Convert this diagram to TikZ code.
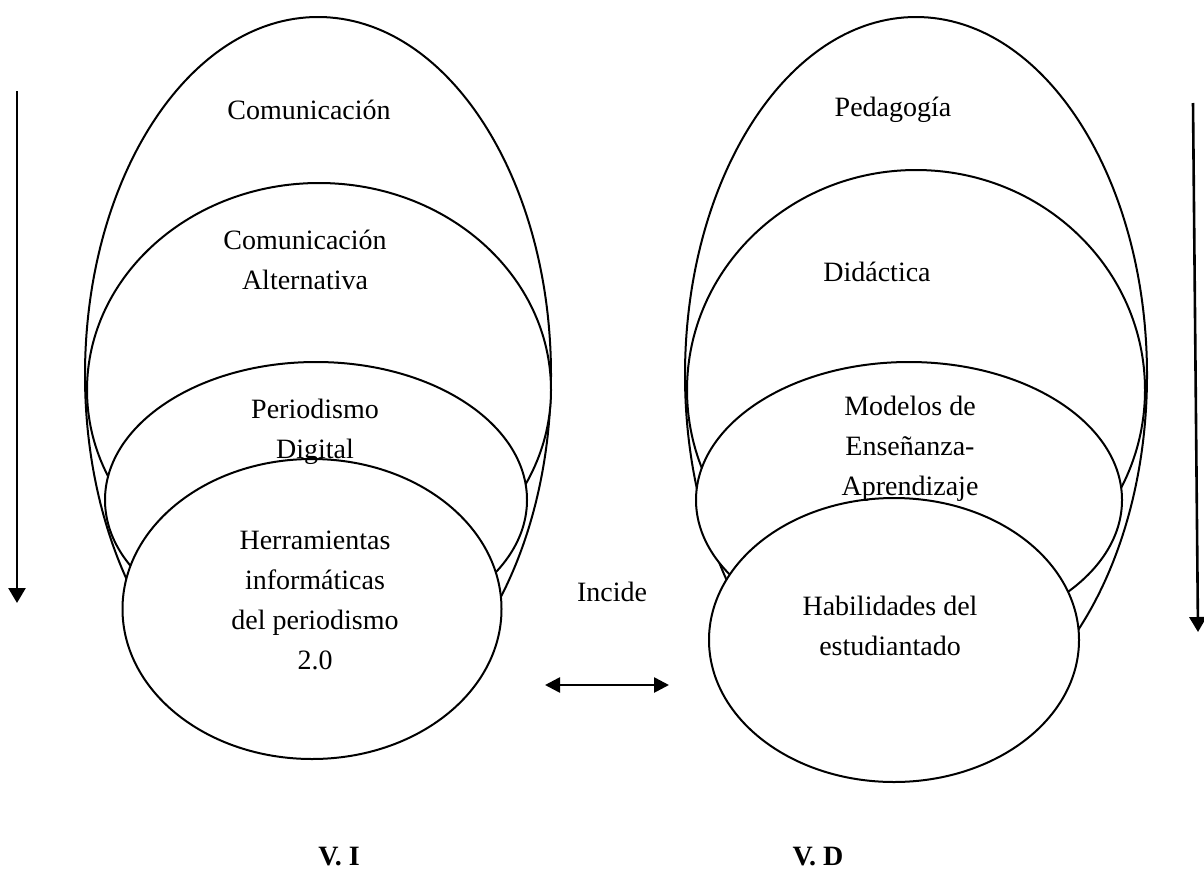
\documentclass[tikz,border=0pt]{standalone}
\usepackage{fontspec}
\setmainfont{Liberation Serif}
\usepackage{tikz}
\usetikzlibrary{arrows.meta,shapes.geometric}

\begin{document}
\begin{tikzpicture}[x=1pt,y=-1pt,line width=2pt,
    >={Triangle[length=15pt,width=17pt]},
    capa/.style={ellipse,draw,fill=white,inner sep=0pt},
    flecha/.style={->,line width=2.6pt},
    texto/.style={align=center,font=\fontsize{28}{40}\selectfont}]
    \useasboundingbox (0,0) rectangle (1204,881);

    % variable independiente
    \node[capa,minimum width=466pt,minimum height=716pt] (i1) at (318,375) {};
    \node[capa,minimum width=464pt,minimum height=414pt] (i2) at (319,390) {};
    \node[capa,minimum width=422pt,minimum height=276pt] (i3) at (316,500) {};
    \node[capa,minimum width=379pt,minimum height=300pt] (i4) at (312,609) {};

    % variable dependiente
    \node[capa,minimum width=462pt,minimum height=716pt] (d1) at (916,375) {};
    \node[capa,minimum width=458pt,minimum height=440pt] (d2) at (916,390) {};
    \node[capa,minimum width=426pt,minimum height=276pt] (d3) at (909,500) {};
    \node[capa,minimum width=370pt,minimum height=284pt] (d4) at (894,640) {};

    \node[texto] (ti1) at (309,110) {Comunicación};
    \node[texto] (ti2) at (305,260) {Comunicación\\Alternativa};
    \node[texto] (ti3) at (315,432) {Periodismo\\Digital};
    \node[texto] (ti4) at (315,600) {Herramientas\\informáticas\\del periodismo\\2.0};

    \node[texto] (td1) at (893,110) {Pedagogía};
    \node[texto] (td2) at (877,272) {Didáctica};
    \node[texto] (td3) at (910,449) {Modelos de\\Enseñanza-\\Aprendizaje};
    \node[texto] (td4) at (890,626) {Habilidades del\\estudiantado};

    \node[texto] (inc) at (612,592) {Incide};
    \node[texto,font=\fontsize{28}{40}\selectfont\bfseries] (vi) at (339,857) {V. I};
    \node[texto,font=\fontsize{28}{40}\selectfont\bfseries] (vd) at (818,857) {V. D};

    \coordinate (ia) at (17,91);
    \coordinate (ib) at (17,603);
    \coordinate (da) at (1193,103);
    \coordinate (db) at (1198,632);
    \coordinate (ma) at (545,685);
    \coordinate (mb) at (669,685);

    \draw[flecha] (ia) -- (ib);
    \draw[flecha] (da) -- (db);
    \draw[flecha,<->,>={Triangle[length=15pt,width=15pt]}] (ma) -- (mb);
\end{tikzpicture}
\end{document}
